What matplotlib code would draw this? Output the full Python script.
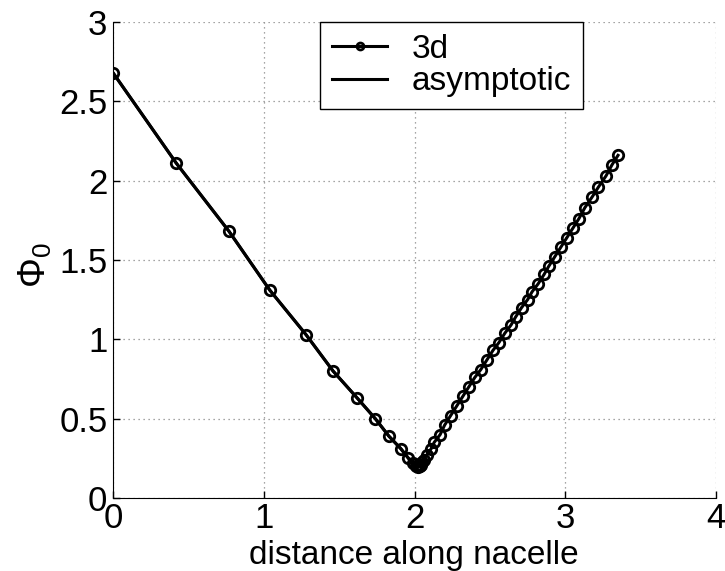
import matplotlib
matplotlib.use("Agg")
import matplotlib.pyplot as plt

plt.rcParams["font.family"] = ["Liberation Sans", "DejaVu Sans"]
plt.rcParams["mathtext.fontset"] = "custom"
plt.rcParams["mathtext.rm"] = "Liberation Sans"
plt.rcParams["mathtext.it"] = "Liberation Sans"

# 3d solution (markers)
x_3d = [0.00, 0.42, 0.77, 1.04, 1.28, 1.46, 1.62, 1.74, 1.83, 1.91, 1.96, 1.99, 2.01,
        2.02, 2.025, 2.03, 2.035, 2.04, 2.05, 2.06, 2.08, 2.11, 2.13, 2.17, 2.20,
        2.24, 2.28, 2.32, 2.36, 2.40, 2.44, 2.48, 2.52, 2.56, 2.60, 2.64, 2.67, 2.71,
        2.75, 2.78, 2.82, 2.86, 2.89, 2.93, 2.97, 3.01, 3.05, 3.09, 3.13, 3.18, 3.22,
        3.27, 3.31, 3.35]
y_3d = [2.68, 2.11, 1.68, 1.31, 1.03, 0.80, 0.63, 0.50, 0.39, 0.31, 0.25, 0.22, 0.205,
        0.20, 0.198, 0.20, 0.205, 0.21, 0.225, 0.24, 0.27, 0.31, 0.35, 0.40, 0.46,
        0.52, 0.58, 0.64, 0.70, 0.76, 0.81, 0.87, 0.93, 0.98, 1.04, 1.09, 1.14, 1.20,
        1.25, 1.30, 1.35, 1.41, 1.46, 1.52, 1.58, 1.64, 1.70, 1.76, 1.83, 1.90, 1.96,
        2.03, 2.10, 2.16]

# asymptotic solution (left branch)
x_asy = [0.00, 0.42, 0.77, 1.04, 1.28, 1.46, 1.62, 1.74, 1.83, 1.91, 1.96, 1.99, 2.02]
y_asy = [2.68, 2.11, 1.68, 1.31, 1.03, 0.80, 0.63, 0.50, 0.39, 0.31, 0.25, 0.22, 0.20]

fig = plt.figure(figsize=(7.25, 5.71), dpi=100)
ax = fig.add_axes([0.1559, 0.1278, 0.8317, 0.8336])

ax.plot(x_3d, y_3d, "-o", color="black", lw=2.2, ms=7.5, mew=2,
        mfc="none", label="3d", zorder=3)
ax.plot(x_asy, y_asy, "-", color="black", lw=2.2, label="asymptotic", zorder=2)

ax.set_xlim(0, 4)
ax.set_ylim(0, 3)
ax.set_xticks([0, 1, 2, 3, 4])
ax.set_yticks([0, 0.5, 1, 1.5, 2, 2.5, 3])
ax.set_yticklabels(["0", "0.5", "1", "1.5", "2", "2.5", "3"])
ax.grid(True, linestyle=(0, (1, 3)), color="#888888", lw=0.9)
ax.spines["top"].set_visible(False)
ax.spines["right"].set_visible(False)
ax.tick_params(direction="in", labelsize=25, length=5, width=1, pad=4)
ax.tick_params(axis="x", pad=3)

ax.set_xlabel("distance along nacelle", fontsize=24)
ax.xaxis.set_label_coords(0.499, -0.088)
ax.set_ylabel(r"$\Phi_0$", fontsize=27)
ax.yaxis.label.set_verticalalignment("center")
ax.yaxis.set_label_coords(-0.128, 0.49)

leg = ax.legend(loc="upper left", bbox_to_anchor=(0.344, 1.0), borderaxespad=0,
                fontsize=24, numpoints=1, handlelength=1.65, handletextpad=0.75,
                fancybox=False, framealpha=1, edgecolor="black",
                borderpad=0.35, labelspacing=0.05)
leg.get_frame().set_linewidth(1)
for h in leg.legend_handles:
    h.set_markersize(5)

fig.savefig("out.png", dpi=100)
